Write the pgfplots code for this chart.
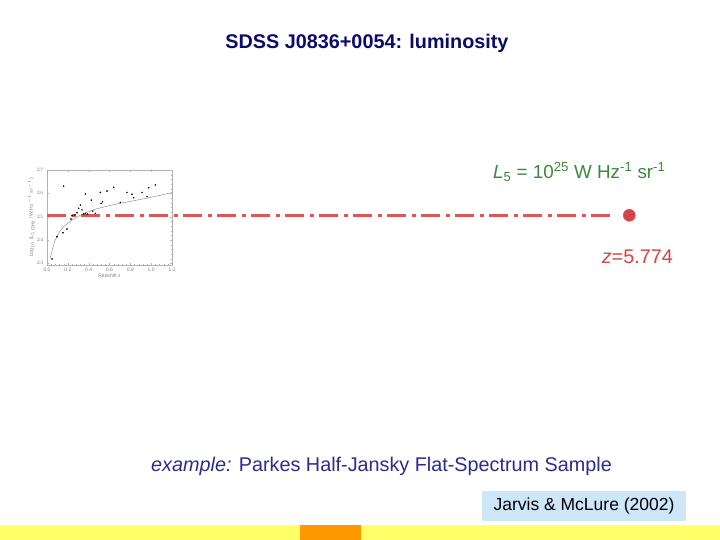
\documentclass[border=0pt]{standalone}
\usepackage{fontspec}
\setmainfont{Liberation Sans}
\usepackage{pgfplots}
\pgfplotsset{compat=1.18}
\definecolor{titleblue}{HTML}{0B0B6E}
\definecolor{textblue}{HTML}{2B2B90}
\definecolor{lgreen}{HTML}{3A8A3A}
\definecolor{zred}{HTML}{D64545}
\definecolor{lred}{HTML}{DD5555}
\definecolor{boxblue}{HTML}{CDE6FA}
\definecolor{band}{HTML}{FFFF66}
\definecolor{orng}{HTML}{FF9900}
\begin{document}
\begin{tikzpicture}[x=1pt,y=1pt]
\useasboundingbox (0,0) rectangle (720,540);
\fill[white] (0,0) rectangle (720,540);
% bottom band
\fill[band] (0,0) rectangle (720,15);
\fill[orng] (300,0) rectangle (361,15);
% title
\node[font=\bfseries\fontsize{19.8}{22}\selectfont, text=titleblue] at (367,497) {SDSS J0836+0054: luminosity};
% axis
\begin{axis}[
  at={(47pt,275pt)}, anchor=south west,
  width=125pt, height=95pt, scale only axis,
  xmin=0, xmax=1.2, ymin=22.93, ymax=27.0,
  clip=false,
  axis line style={gray!60, line width=0.4pt},
  xtick={0,0.2,...,1.2}, ytick={23,24,25,26,27},
  xticklabels={0.0,0.2,0.4,0.6,0.8,1.0,1.2},
  minor x tick num=4, minor y tick num=4,
  tick style={gray!60, line width=0.3pt},
  major tick length=2pt, minor tick length=1pt,
  tick align=inside,
  ticklabel style={font=\fontsize{5}{6}\selectfont, text=gray},
  xticklabel style={yshift=1pt},
  xlabel={Redshift z}, ylabel={Log$_{10}$ (L$_{5\,\mathrm{GHz}}$ / W Hz$^{-1}$ sr$^{-1}$)},
  label style={font=\fontsize{5}{6}\selectfont, text=gray},
  xlabel style={yshift=4pt},
  ylabel style={yshift=-5pt},
]
\addplot[gray, line width=0.4pt, smooth] coordinates {
(0.032,23.24) (0.054,23.64) (0.08,24.0) (0.112,24.29) (0.16,24.57) (0.208,24.74)
(0.256,24.9) (0.336,25.1) (0.416,25.24) (0.496,25.36) (0.656,25.53) (0.816,25.67)
(0.976,25.81) (1.2,26.03)};
\addplot[only marks, mark=*, mark size=0.55pt, black] coordinates {
(0.048,23.19) (0.096,24.14) (0.154,24.31) (0.16,26.31) (0.192,24.47) (0.23,24.9)
(0.24,25.04) (0.266,25.07) (0.288,25.17) (0.304,25.36) (0.32,25.5) (0.336,25.29)
(0.352,25.11) (0.368,25.97) (0.368,25.14) (0.39,25.11) (0.426,25.71) (0.44,25.24)
(0.464,25.14) (0.512,26.04) (0.534,25.64) (0.52,25.57) (0.576,26.1) (0.64,26.26)
(0.704,25.61) (0.768,26.04) (0.816,25.96) (0.832,25.81) (0.912,26.04) (0.976,26.24)
(1.04,26.36) (0.96,25.86)};
\addplot[lred, line width=3.5pt, dash pattern=on 19pt off 6pt on 3.5pt off 5.5pt] coordinates {(0,25.06) (5.45,25.06)};
\addplot[only marks, mark=*, mark size=6pt, color=zred, fill=zred] coordinates {(5.59,25.06)};
\end{axis}
% labels
\node[anchor=west, font=\fontsize{18.8}{21}\selectfont, text=lgreen, inner sep=0pt] at (493,368) {\textit{L}\textsubscript{5} = 10\textsuperscript{25} W Hz\textsuperscript{-1} sr\textsuperscript{-1}};
\node[anchor=east, font=\fontsize{19.8}{22}\selectfont, text=zred, inner sep=0pt] at (673,283) {\textit{z}=5.774};
\node[anchor=west, font=\fontsize{19.8}{22}\selectfont, text=textblue, inner sep=0pt] at (151,74) {\textit{example:} Parkes Half-Jansky Flat-Spectrum Sample};
\fill[boxblue] (482,19) rectangle (686,49);
\node[font=\fontsize{17.5}{19}\selectfont, text=black] at (584,34) {Jarvis \& McLure (2002)};
\end{tikzpicture}
\end{document}
